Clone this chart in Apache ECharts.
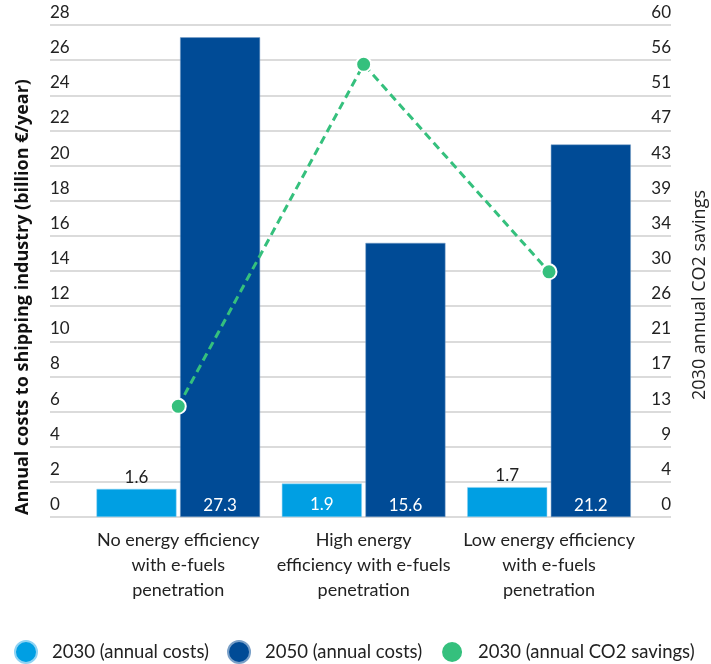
<!DOCTYPE html>
<html><head><meta charset="utf-8">
<script src="https://cdn.jsdelivr.net/npm/echarts@6/dist/echarts.min.js"></script>
<style>html,body{margin:0;padding:0;background:#fff}#c{width:711px;height:664px}</style>
</head><body><div id="c"></div>
<script>
const categories = ['No energy efficiency\nwith e-fuels\npenetration', 'High energy\nefficiency with e-fuels\npenetration', 'Low energy efficiency\nwith e-fuels\npenetration'];
const costs2030 = [1.6, 1.9, 1.7];
const costs2050 = [27.3, 15.6, 21.2];
const co2Savings2030 = [13.5, 55.2, 29.9];
const seriesNames = ['2030 (annual costs)', '2050 (annual costs)', '2030 (annual CO2 savings)'];
const leftTitle = 'Annual costs to shipping industry (billion €/year)';
const rightTitle = '2030 annual CO2 savings';

const FONT = 'Lato';
const LIGHT = '#009FE3', DARK = '#004B96', GREEN = '#35C07D';
const chart = echarts.init(document.getElementById('c'));

const lightData = costs2030.map(v => ({
  value: v,
  label: v >= 1.8
    ? {position: 'insideBottom', distance: 4, color: '#fff'}
    : {position: 'top', distance: 3, color: '#222'}
}));

chart.setOption({
  animation: false,
  textStyle: {fontFamily: FONT},
  grid: [
    {left: 50, right: 40, top: 25, bottom: 147},
    {left: 85.6, right: 69.3, top: 25, bottom: 147}
  ],
  xAxis: [
    {gridIndex: 0, type: 'category', data: categories, show: false},
    {gridIndex: 1, type: 'category', data: categories,
     axisLine: {show: false}, axisTick: {show: false},
     axisLabel: {margin: 11, color: '#222', fontSize: 18, lineHeight: 25, fontFamily: FONT, interval: 0}}
  ],
  yAxis: [
    {gridIndex: 0, type: 'value', min: 0, max: 28, interval: 2, position: 'left',
     axisLine: {show: false}, axisTick: {show: false},
     splitLine: {lineStyle: {color: '#cfcfcf', width: 1.5}},
     axisLabel: {inside: true, margin: 0, align: 'left', verticalAlign: 'bottom', padding: [0, 0, 4, 0], color: '#222', fontSize: 17, fontFamily: FONT}},
    {gridIndex: 0, type: 'value', min: 0, max: 60, interval: 60 / 14, position: 'right',
     axisLine: {show: false}, axisTick: {show: false}, splitLine: {show: false},
     axisLabel: {inside: true, margin: 0, align: 'right', verticalAlign: 'bottom', padding: [0, 0, 4, 0], color: '#222', fontSize: 17, fontFamily: FONT,
       formatter: v => String(Math.round(v))}},
    {gridIndex: 1, type: 'value', min: 0, max: 28, show: false},
    {gridIndex: 1, type: 'value', min: 0, max: 60, show: false}
  ],
  legend: {
    left: 9, top: 635, width: 700, padding: 5, icon: 'circle', itemWidth: 22, itemHeight: 22, itemGap: 18,
    textStyle: {fontSize: 18.5, color: '#222', fontFamily: FONT, padding: [0, 0, 0, 10]},
    data: seriesNames
  },
  series: [
    {name: seriesNames[0], type: 'bar', xAxisIndex: 1, yAxisIndex: 2, data: lightData,
     barWidth: 80, barGap: '4.5%',
     itemStyle: {color: LIGHT, borderColor: '#8fd3f3', borderWidth: 0.5},
     label: {show: true, fontSize: 17, fontFamily: FONT}},
    {name: seriesNames[1], type: 'bar', xAxisIndex: 1, yAxisIndex: 2, data: costs2050,
     barWidth: 80,
     itemStyle: {color: DARK, borderColor: '#7aa0c8', borderWidth: 0.5},
     label: {show: true, position: 'insideBottom', distance: 3, color: '#fff', fontSize: 17, fontFamily: FONT}},
    {name: seriesNames[2], type: 'line', xAxisIndex: 1, yAxisIndex: 3, data: co2Savings2030,
     symbol: 'circle', symbolSize: 15, z: 5,
     lineStyle: {color: GREEN, width: 3, type: [8, 5]},
     itemStyle: {color: GREEN, borderColor: '#fff', borderWidth: 2}}
  ],
  graphic: [
    {type: 'text', x: 23, y: 297, rotation: Math.PI / 2,
     style: {text: leftTitle, font: 'bold 18px "Open Sans"', fill: '#111', align: 'center', verticalAlign: 'middle'}},
    {type: 'text', x: 700, y: 295, rotation: Math.PI / 2,
     style: {text: rightTitle, font: '18px "Open Sans"', fill: '#222', align: 'center', verticalAlign: 'middle'}}
  ]
});
</script></body></html>
